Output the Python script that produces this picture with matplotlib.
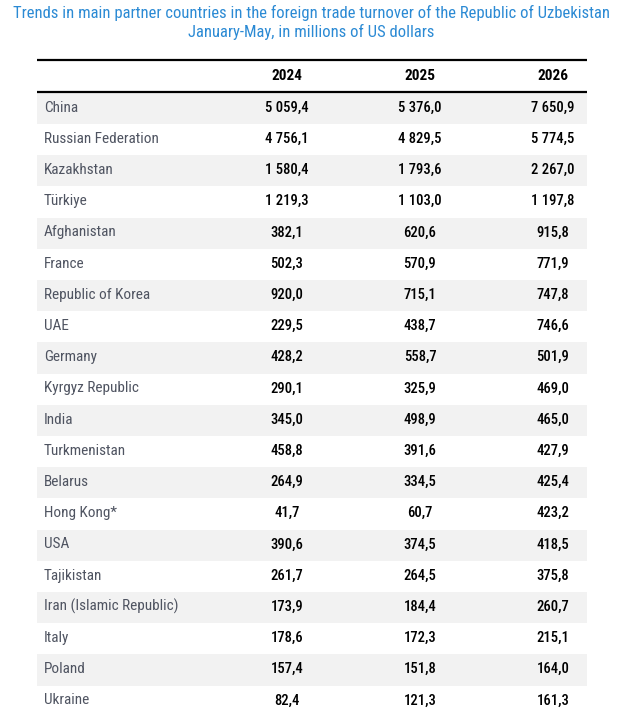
import matplotlib
matplotlib.use("Agg")
import matplotlib.pyplot as plt
from matplotlib import font_manager as fm
from matplotlib.patches import Rectangle

countries = ["China", "Russian Federation", "Kazakhstan", "Türkiye", "Afghanistan",
             "France", "Republic of Korea", "UAE", "Germany", "Kyrgyz Republic",
             "India", "Turkmenistan", "Belarus", "Hong Kong*", "USA", "Tajikistan",
             "Iran (Islamic Republic)", "Italy", "Poland", "Ukraine"]
years = ["2024", "2025", "2026"]
v2024 = ["5 059,4", "4 756,1", "1 580,4", "1 219,3", "382,1", "502,3", "920,0", "229,5",
         "428,2", "290,1", "345,0", "458,8", "264,9", "41,7", "390,6", "261,7", "173,9",
         "178,6", "157,4", "82,4"]
v2025 = ["5 376,0", "4 829,5", "1 793,6", "1 103,0", "620,6", "570,9", "715,1", "438,7",
         "558,7", "325,9", "498,9", "391,6", "334,5", "60,7", "374,5", "264,5", "184,4",
         "172,3", "151,8", "121,3"]
v2026 = ["7 650,9", "5 774,5", "2 267,0", "1 197,8", "915,8", "771,9", "747,8", "746,6",
         "501,9", "469,0", "465,0", "427,9", "425,4", "423,2", "418,5", "375,8", "260,7",
         "215,1", "164,0", "161,3"]
title_lines = ["Trends in main partner countries in the foreign trade turnover of the Republic of Uzbekistan",
               "January-May, in millions of US dollars"]

names = {f.name for f in fm.fontManager.ttflist}
font = "Roboto"
for cand in ["Roboto Condensed", "Liberation Sans Narrow", "Open Sans Condensed", "Roboto"]:
    if cand in names:
        font = cand
        break
plt.rcParams["font.family"] = [font, "DejaVu Sans"]

W, H = 617, 728
fig = plt.figure(figsize=(W / 100, H / 100), dpi=100)
ax = fig.add_axes([0, 0, 1, 1])
ax.set_xlim(0, W)
ax.set_ylim(H, 0)
ax.axis("off")

left, right = 37, 587
top_line, head_line = 60, 92
row_h = 31.2
col_x = [287, 420, 553]
label_x = 44

blue = "#2b8ad4"
ax.text(W / 2 + 3, 13, title_lines[0], ha="center", va="center", fontsize=12, color=blue)
ax.text(W / 2 + 3, 32, title_lines[1], ha="center", va="center", fontsize=12, color=blue)

ax.plot([left, right], [top_line, top_line], color="black", lw=1.6, solid_capstyle="butt")
ax.plot([left, right], [head_line, head_line], color="black", lw=1.6, solid_capstyle="butt")
for j, y in enumerate(years):
    ax.text(col_x[j], 76, y, ha="center", va="center", fontsize=11, fontweight="bold", color="black")

cols = [v2024, v2025, v2026]
for i, c in enumerate(countries):
    y0 = head_line + row_h * i
    yc = y0 + row_h / 2
    if i % 2 == 0:
        ax.add_patch(Rectangle((left, y0 + 0.8), right - left, row_h, facecolor="#f2f2f2",
                               edgecolor="none", zorder=0))
    ax.text(label_x, yc, c, ha="left", va="center", fontsize=11, color="#4f5461")
    for j in range(3):
        ax.text(col_x[j], yc, cols[j][i], ha="center", va="center", fontsize=10.5,
                fontweight="medium", color="black")

fig.savefig("out.png", dpi=100)
